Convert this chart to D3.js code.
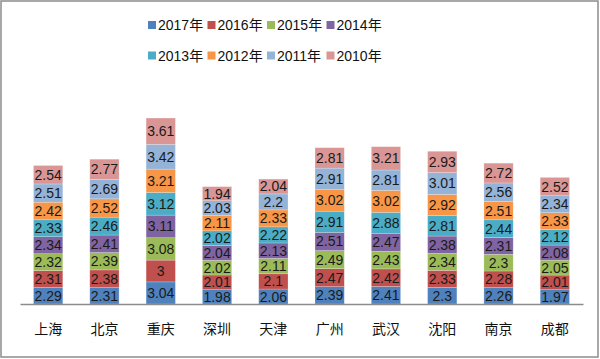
<!DOCTYPE html>
<html><head><meta charset="utf-8">
<script src="https://cdn.jsdelivr.net/npm/d3@7"></script>
<style>body{margin:0;background:#fff}svg{display:block}</style>
</head><body>
<svg id="c" width="600" height="359"></svg>
<script>
const categories = ["上海","北京","重庆","深圳","天津","广州","武汉","沈阳","南京","成都"];
const seriesNames = ["2017年","2016年","2015年","2014年","2013年","2012年","2011年","2010年"];
const s2017 = [2.29,2.31,3.04,1.98,2.06,2.39,2.41,2.3,2.26,1.97];
const s2016 = [2.31,2.38,3,2.01,2.1,2.47,2.42,2.33,2.28,2.01];
const s2015 = [2.32,2.39,3.08,2.02,2.11,2.49,2.43,2.34,2.3,2.05];
const s2014 = [2.34,2.41,3.11,2.04,2.13,2.51,2.47,2.38,2.31,2.08];
const s2013 = [2.33,2.46,3.12,2.02,2.22,2.91,2.88,2.81,2.44,2.12];
const s2012 = [2.42,2.52,3.21,2.11,2.33,3.02,3.02,2.92,2.51,2.33];
const s2011 = [2.51,2.69,3.42,2.03,2.2,2.91,2.81,3.01,2.56,2.34];
const s2010 = [2.54,2.77,3.61,1.94,2.04,2.81,3.21,2.93,2.72,2.52];
const seriesValues = [s2017,s2016,s2015,s2014,s2013,s2012,s2011,s2010];
const colors = ["#4F81BD","#C0504D","#9BBB59","#8064A2","#4BACC6","#F79646","#95B3D7","#D99694"];

const svg = d3.select("#c");
svg.append("rect").attr("x",1).attr("y",1).attr("width",597).attr("height",356)
  .attr("fill","#fff").attr("stroke","#8c8c8c").attr("stroke-width",1.5);

const rows = categories.map((c,i)=>{const o={cat:c}; seriesNames.forEach((s,j)=>o[s]=seriesValues[j][i]); return o;});
const stacked = d3.stack().keys(seriesNames)(rows);

const x = d3.scaleBand().domain(categories).range([20,583]).paddingInner(0.48).paddingOuter(0.24);
const y = d3.scaleLinear().domain([0,30]).range([304,86]);

const g = svg.append("g");
stacked.forEach((layer,j)=>{
  g.selectAll(null).data(layer).enter().append("rect")
    .attr("x",d=>x(d.data.cat)).attr("width",x.bandwidth())
    .attr("y",d=>y(d[1])).attr("height",d=>y(d[0])-y(d[1]))
    .attr("fill",colors[j]).attr("stroke","#fff").attr("stroke-opacity",0.35).attr("stroke-width",0.6);
  g.selectAll(null).data(layer).enter().append("text")
    .attr("x",d=>x(d.data.cat)+x.bandwidth()/2)
    .attr("y",d=>(y(d[0])+y(d[1]))/2+5)
    .attr("text-anchor","middle")
    .attr("font-family","Liberation Sans, Arial, sans-serif").attr("font-size",14)
    .attr("fill","#1a1a1a")
    .text(d=>d.data[seriesNames[j]]);
});

// axis
const axis = d3.axisBottom(x).tickSize(0).tickPadding(20);
const ag = svg.append("g").attr("transform","translate(0,304)").call(axis);
ag.select(".domain").attr("stroke","#8c8c8c").attr("stroke-width",1.5);
ag.selectAll("text").attr("font-family","Noto Sans CJK SC, sans-serif").attr("font-size",14).attr("fill","#111");

// legend
const lg = svg.append("g");
seriesNames.forEach((s,j)=>{
  const col = j%4, row = Math.floor(j/4);
  const lx = 148 + col*59.5, ly = 25 + row*30.5;
  lg.append("rect").attr("x",lx).attr("y",ly-4).attr("width",8).attr("height",8).attr("fill",colors[j]);
  lg.append("text").attr("x",lx+10).attr("y",ly+5)
    .attr("font-family","Liberation Sans, Noto Sans CJK SC, sans-serif").attr("font-size",14).attr("fill","#111").text(s);
});
</script>
</body></html>
